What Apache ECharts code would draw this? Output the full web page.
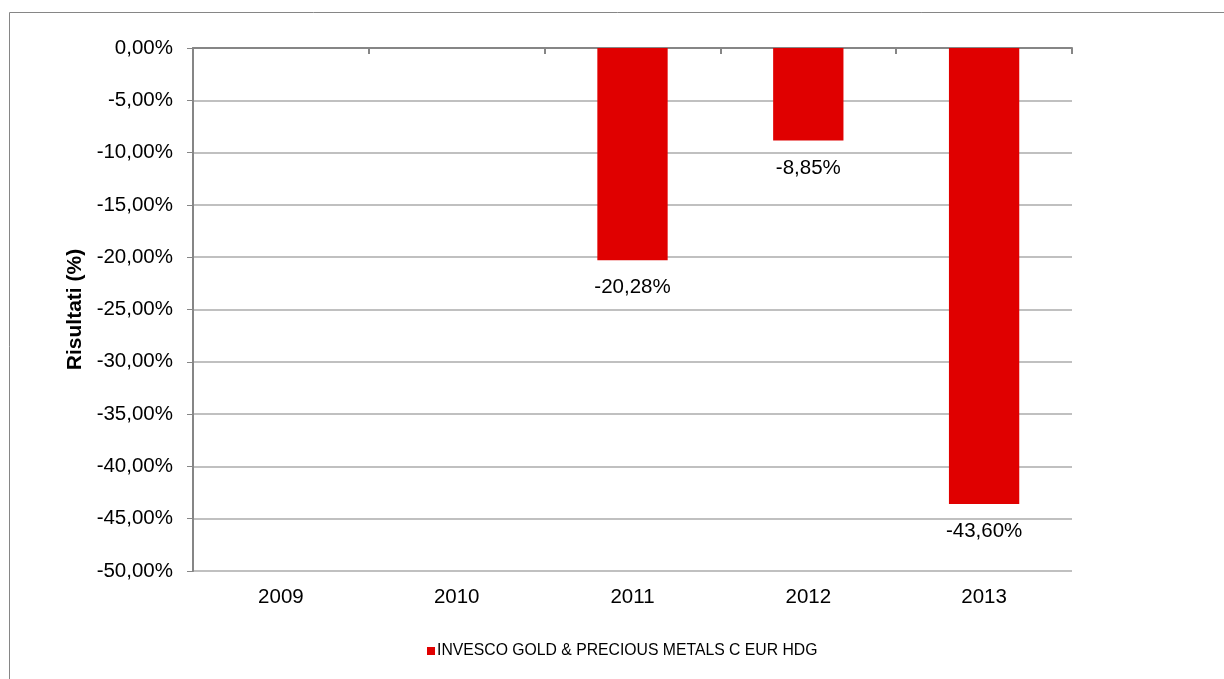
<!DOCTYPE html>
<html>
<head>
<meta charset="utf-8">
<script src="https://cdn.jsdelivr.net/npm/echarts@6/dist/echarts.min.js"></script>
<style>html,body{margin:0;padding:0;background:#fff;}#c{width:1224px;height:679px;}</style>
</head>
<body>
<div id="c"></div>
<script>
var categories = ['2009', '2010', '2011', '2012', '2013'];
var values = [null, null, -20.28, -8.85, -43.60];
var seriesName = 'INVESCO GOLD & PRECIOUS METALS C EUR HDG';
var yMin = -50, yMax = 0, yStep = 5;

function fmt(v) { return v.toFixed(2).replace('.', ',') + '%'; }

var chart = echarts.init(document.getElementById('c'));
var font = 'Liberation Sans, Arial, sans-serif';
chart.setOption({
  backgroundColor: '#fff',
  animation: false,
  graphic: [{
    type: 'rect', silent: true,
    shape: { x: 9.5, y: 12.5, width: 1400, height: 1000 },
    style: { fill: 'none', stroke: '#868686', lineWidth: 1 }
  }],
  grid: { left: 193, top: 48, right: 152, bottom: 108, containLabel: false },
  legend: {
    top: 638, left: 422, icon: 'rect', itemWidth: 8, itemHeight: 8, itemGap: 4,
    textStyle: { fontFamily: font, fontSize: 15.75, color: '#000', padding: [0, 0, 0, -3] },
    data: [seriesName]
  },
  xAxis: [{
    type: 'category', data: categories, position: 'bottom',
    axisLine: { show: false }, axisTick: { show: false },
    axisLabel: { fontFamily: font, fontSize: 20.5, color: '#000', margin: 16 }
  }, {
    type: 'category', data: categories, position: 'top',
    axisLine: { show: true, onZero: false, lineStyle: { color: '#868686', width: 2 } },
    axisTick: { show: true, inside: true, length: 6, lineStyle: { color: '#868686', width: 2 } },
    axisLabel: { show: false }
  }],
  yAxis: {
    type: 'value', min: yMin, max: yMax, interval: yStep,
    name: 'Risultati (%)', nameLocation: 'middle', nameRotate: 90, nameGap: 107,
    nameTextStyle: { fontFamily: font, fontSize: 21, fontWeight: 'bold', color: '#000' },
    axisLine: { show: true, lineStyle: { color: '#868686', width: 2 } },
    axisTick: { show: true, length: 6, lineStyle: { color: '#868686' } },
    axisLabel: { fontFamily: font, fontSize: 20.5, color: '#000', margin: 20, formatter: fmt },
    splitLine: { show: true, lineStyle: { color: '#c0c0c0', width: 2 } }
  },
  series: [{
    name: seriesName, type: 'bar', xAxisIndex: 0, data: values, barWidth: '40%',
    itemStyle: { color: '#e00000' },
    label: {
      show: true, position: 'bottom', distance: 17,
      fontFamily: font, fontSize: 20.5, color: '#000',
      formatter: function (p) { return fmt(p.value); }
    }
  }]
});
</script>
</body>
</html>
